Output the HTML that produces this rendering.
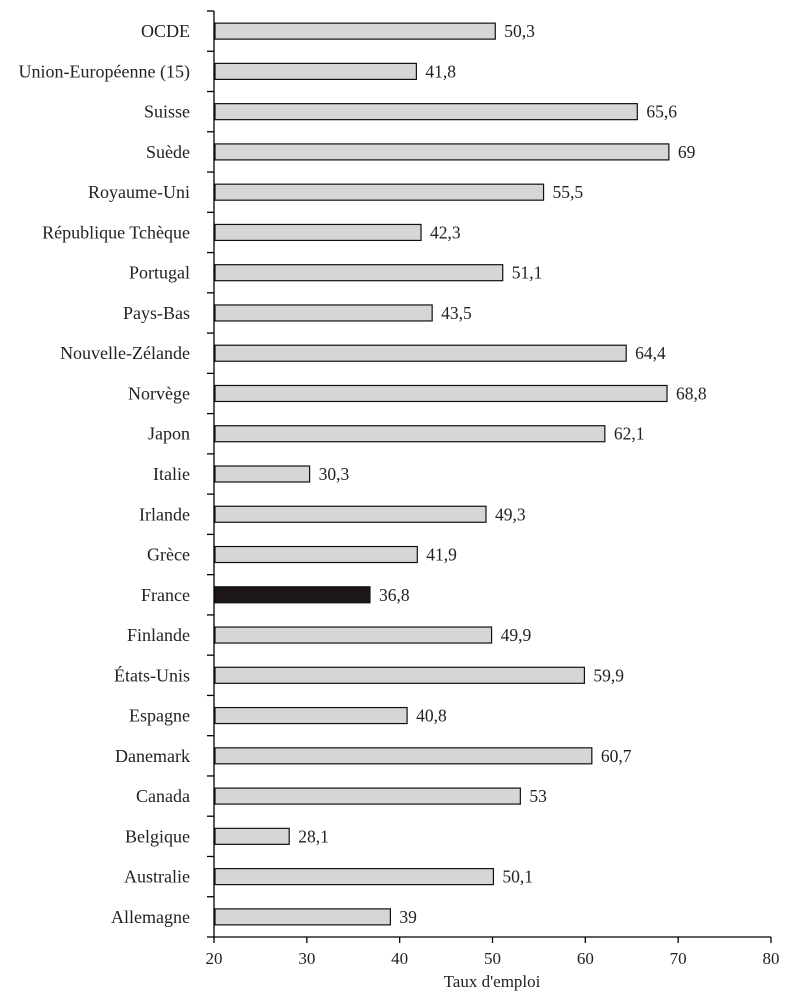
<!DOCTYPE html>
<html><head><meta charset="utf-8"><style>
body{margin:0;background:#fff;}
svg{display:block;font-family:"Liberation Serif",serif;}
</style></head><body>
<svg id="chart" width="791" height="995"></svg>
<script>
const categories=["OCDE","Union-Européenne (15)","Suisse","Suède","Royaume-Uni","République Tchèque","Portugal","Pays-Bas","Nouvelle-Zélande","Norvège","Japon","Italie","Irlande","Grèce","France","Finlande","États-Unis","Espagne","Danemark","Canada","Belgique","Australie","Allemagne"];
const values=[50.3,41.8,65.6,69,55.5,42.3,51.1,43.5,64.4,68.8,62.1,30.3,49.3,41.9,36.8,49.9,59.9,40.8,60.7,53,28.1,50.1,39];
const valueLabels=["50,3","41,8","65,6","69","55,5","42,3","51,1","43,5","64,4","68,8","62,1","30,3","49,3","41,9","36,8","49,9","59,9","40,8","60,7","53","28,1","50,1","39"];
const xTicks=[20,30,40,50,60,70,80];
const highlight="France";

const NS="http://www.w3.org/2000/svg";
const svgEl=document.getElementById("chart");
const x0=214,x1=771,xmin=20,xmax=80,plotTop=11,plotBottom=937;
const band=(plotBottom-plotTop)/categories.length;
const xs=v=>x0+(v-xmin)/(xmax-xmin)*(x1-x0);
const ys=i=>plotTop+band*i+band/2;
function mk(t,a,txt){const e=document.createElementNS(NS,t);for(const k in a)e.setAttribute(k,a[k]);if(txt!==undefined)e.textContent=txt;svgEl.appendChild(e);return e;}

const ya=mk("line",{x1:x0,y1:plotTop,x2:x0,y2:plotBottom,stroke:"#000","stroke-width":1.3});


for(let i=0;i<=categories.length;i++){
  const t=mk("line",{x1:x0-7,y1:plotTop+band*i,x2:x0,y2:plotTop+band*i,stroke:"#000","stroke-width":1.3});
  
  
}
const xa=mk("line",{x1:x0,y1:plotBottom,x2:x1,y2:plotBottom,stroke:"#000","stroke-width":1.3});


xTicks.forEach(v=>{
  const t=mk("line",{x1:xs(v),y1:plotBottom,x2:xs(v),y2:plotBottom+6,stroke:"#000","stroke-width":1.3});
  
  
  const l=mk("text",{x:xs(v),y:plotBottom+27,"text-anchor":"middle","font-size":17,fill:"#222"},String(v));
  
  
});
const title=mk("text",{x:492,y:987,"text-anchor":"middle","font-size":17,fill:"#222"},"Taux d'emploi");



categories.forEach((c,i)=>{
  const cy=ys(i);
  const lab=mk("text",{x:190,y:cy+6,"text-anchor":"end","font-size":18,fill:"#222"},c);
  
  
  const b=mk("rect",{x:x0+1,y:cy-8,width:xs(values[i])-x0-1,height:16,fill:c===highlight?"#1c1519":"#d6d6d6",stroke:"#111","stroke-width":1.2});
  
  
  const v=mk("text",{x:xs(values[i])+9,y:cy+6,"font-size":17.5,fill:"#222"},valueLabels[i]);
  
  
});
</script>
</body></html>
